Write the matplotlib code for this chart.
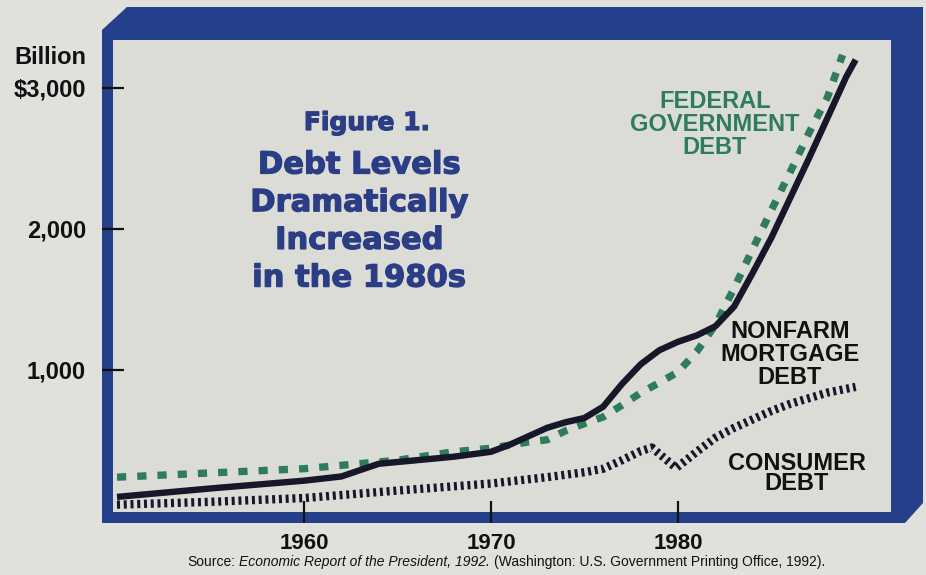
import matplotlib
matplotlib.use("Agg")
import matplotlib.pyplot as plt
import matplotlib.patheffects as pe
from matplotlib.patches import Polygon

# values, billions of dollars
fed_years = [1950, 1955, 1960, 1965, 1968, 1970, 1972, 1973, 1974, 1975, 1976, 1977,
             1978, 1979, 1980, 1981, 1982, 1983, 1984, 1985, 1986, 1987, 1988, 1988.8]
fed_debt = [240, 270, 300, 360, 420, 445, 490, 505, 570, 620, 667, 750,
            837, 910, 986, 1130, 1320, 1580, 1860, 2135, 2404, 2681, 2936, 3234]

mort_years = [1950, 1955, 1960, 1962, 1964, 1966, 1968, 1970, 1971, 1972, 1973, 1974,
              1975, 1976, 1977, 1978, 1979, 1980, 1981, 1982, 1983, 1984, 1985, 1986,
              1987, 1988, 1989, 1989.5]
mort_debt = [100, 160, 215, 245, 335, 360, 385, 420, 470, 530, 590, 630,
             660, 740, 900, 1040, 1140, 1200, 1245, 1310, 1450, 1690, 1940, 2220,
             2500, 2790, 3080, 3200]

cons_years = [1950, 1955, 1960, 1965, 1970, 1973, 1975, 1976, 1977, 1978, 1978.6,
              1979.9, 1981, 1982, 1983, 1984, 1985, 1986, 1987, 1988, 1989.5]
cons_debt = [45, 65, 92, 145, 195, 240, 275, 300, 360, 425, 450,
             305, 420, 520, 590, 650, 710, 760, 800, 840, 880]

x_ticks = [1960, 1970, 1980]
x_labels = ["1960", "1970", "1980"]
y_ticks = [1000, 2000, 3000]
y_labels = ["1,000", "2,000", "$3,000"]

title_lines = ["Debt Levels", "Dramatically", "Increased", "in the 1980s"]

PAGE = "#e0e0dc"
INNER = "#dcdcd7"
NAVY = "#24408a"
TITLE = "#2b3d85"
GREEN = "#2e7b5e"
DARK = "#17172a"

W, H = 926, 575
plt.rcParams["font.family"] = ["Liberation Sans", "DejaVu Sans"]


def px(x, y):
    # pixel position (from top left) -> figure fraction
    return x / W, 1 - y / H


fig = plt.figure(figsize=(W / 100, H / 100), dpi=100, facecolor=PAGE)

# navy box round the plot, bevelled at two corners
frame = Polygon([px(102, 30), px(127, 7), px(923, 7), px(923, 503), px(905, 523), px(102, 523)],
                closed=True, transform=fig.transFigure, facecolor=NAVY,
                edgecolor="none", zorder=-1)
fig.add_artist(frame)

ax = fig.add_axes([113 / W, 1 - 512 / H, (891 - 113) / W, (512 - 40) / H], facecolor=INNER)
ax.set_xlim(1949.786, 1991.39)
ax.set_ylim(-7, 3340)
for s in ax.spines.values():
    s.set_visible(False)

ax.plot(cons_years, cons_debt, color=DARK, lw=6, dashes=(0.36, 0.45),
        dash_capstyle="butt", solid_joinstyle="round")
ax.plot(fed_years, fed_debt, color=GREEN, lw=5.3, dashes=(1.25, 1.5), dash_capstyle="butt")
ax.plot(mort_years, mort_debt, color=DARK, lw=4.6, solid_capstyle="butt", solid_joinstyle="round")

ax.set_xticks(x_ticks)
ax.set_xticklabels(x_labels, fontweight="bold", fontsize=16, color="#111111")
ax.set_yticks(y_ticks)
ax.set_yticklabels(y_labels, fontweight="bold", fontsize=17, color="#111111")
ax.tick_params(direction="inout", length=16, width=1.6, color="#111111")
ax.tick_params(axis="y", pad=11.5)
ax.tick_params(axis="x", pad=7)

fig.text(*px(86, 57), "Billion", ha="right", va="center", fontsize=17,
         fontweight="bold", color="#111111")

# title block, thickened a little to look like a black weight
heavy = [pe.withStroke(linewidth=0.9, foreground=TITLE)]
fig.text(*px(367, 123), "Figure 1.", ha="center", va="center", fontsize=18,
         fontweight="bold", color=TITLE, family="DejaVu Sans", path_effects=heavy)
for i, line in enumerate(title_lines):
    fig.text(*px(359, 165 + 37.7 * i), line, ha="center", va="center", fontsize=22,
             fontweight="bold", color=TITLE, family="DejaVu Sans", path_effects=heavy)

# series labels
for i, line in enumerate(["FEDERAL", "GOVERNMENT", "DEBT"]):
    fig.text(*px(715, 102 + 22.5 * i), line, ha="center", va="center", fontsize=17,
             fontweight="bold", color=GREEN)
for i, line in enumerate(["NONFARM", "MORTGAGE", "DEBT"]):
    fig.text(*px(790, 332 + 22.5 * i), line, ha="center", va="center", fontsize=17,
             fontweight="bold", color="#111111")
for i, line in enumerate(["CONSUMER", "DEBT"]):
    fig.text(*px(797, 463 + 21 * i), line, ha="center", va="center", fontsize=17,
             fontweight="bold", color="#111111")

# source line, partly italic
renderer = fig.canvas.get_renderer()
xpos = 187
parts = [("Source:", "normal"), ("Economic Report of the President, 1992.", "italic"),
         ("(Washington: U.S. Government Printing Office, 1992).", "normal")]
for txt, style in parts:
    t = fig.text(*px(xpos, 562), txt, ha="left", va="center", fontsize=10,
                 style=style, color="#111111")
    xpos += t.get_window_extent(renderer).width + 4

fig.savefig("out.png", dpi=100, facecolor=PAGE)
